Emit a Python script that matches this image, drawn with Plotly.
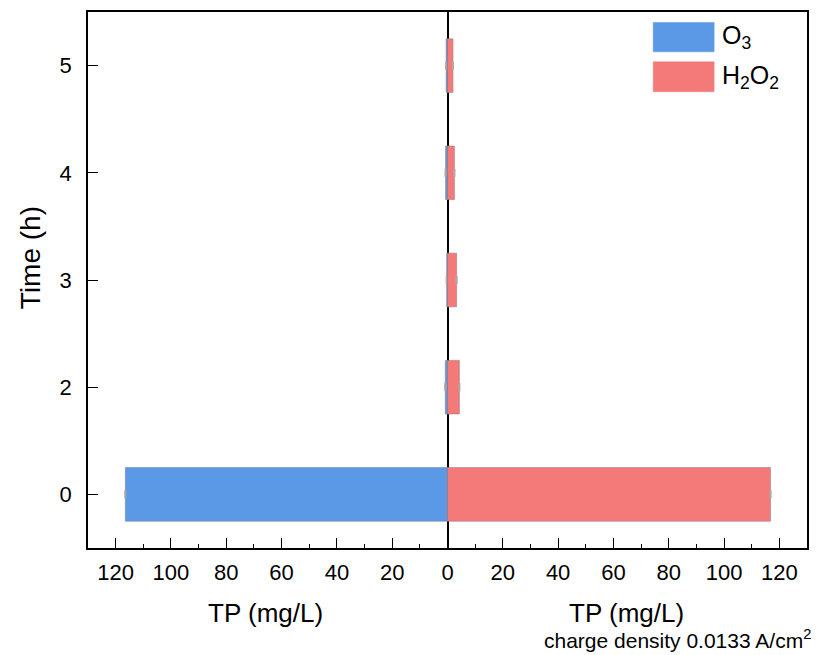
import plotly.graph_objects as go

times = ["0", "2", "3", "4", "5"]
o3_tp = [116.5, 0.8, 0.3, 0.7, 0.5]
h2o2_tp = [116.8, 4.3, 3.3, 2.5, 2.0]
o3_err = [0.2, 0.2, 0.2, 0.2, 0.2]
h2o2_err = [0.2, 0.2, 0.2, 0.2, 0.2]
xtick_vals = [-120, -100, -80, -60, -40, -20, 0, 20, 40, 60, 80, 100, 120]
xtick_text = [str(abs(v)) for v in xtick_vals]

BLUE = "#5B98E6"
RED = "#F47A7A"
FONT = "Liberation Sans, Arial, sans-serif"

fig = go.Figure()
fig.add_trace(go.Bar(
    y=times, x=[-v for v in o3_tp], orientation="h", width=0.5,
    marker=dict(color=BLUE, line=dict(color="#7a8a9a", width=0.6)),
    error_x=dict(type="data", array=o3_err, color="#aaaaaa", thickness=1, width=4),
    name="O3", showlegend=False,
))
fig.add_trace(go.Bar(
    y=times, x=h2o2_tp, orientation="h", width=0.5,
    marker=dict(color=RED, line=dict(color="#a08080", width=0.6)),
    error_x=dict(type="data", array=h2o2_err, color="#aaaaaa", thickness=1, width=4),
    name="H2O2", showlegend=False,
))

fig.update_layout(
    width=819, height=655,
    margin=dict(l=88, r=11, t=10, b=107),
    plot_bgcolor="white", paper_bgcolor="white",
    barmode="overlay",
    font=dict(family=FONT, color="black"),
    xaxis=dict(
        range=[-130, 130], tickvals=xtick_vals, ticktext=xtick_text,
        ticks="inside", ticklen=10, tickwidth=1.3, tickcolor="black",
        minor=dict(dtick=10, tick0=0, ticks="inside", ticklen=4, tickcolor="black"),
        showline=True, linecolor="black", linewidth=1.5, mirror=True,
        showgrid=False, zeroline=True, zerolinecolor="black", zerolinewidth=1.5,
        tickfont=dict(size=22, family=FONT), ticklabelstandoff=4,
    ),
    yaxis=dict(
        type="category", categoryorder="array", categoryarray=times,
        range=[-0.5, 4.5],
        ticks="inside", ticklen=10, tickwidth=1.3, tickcolor="black",
        showline=True, linecolor="black", linewidth=1.5, mirror=True,
        showgrid=False, zeroline=False,
        tickfont=dict(size=22, family=FONT), ticklabelstandoff=10,
    ),
)

def px_x(p):
    return (p - 88) / 720.0
def px_y(p):
    return 1 - (p - 10) / 538.0

# axis titles and note
fig.add_annotation(x=px_x(30), y=px_y(257), xref="paper", yref="paper", text="Time (h)",
                   textangle=-90, showarrow=False, font=dict(size=28, family=FONT),
                   xanchor="center", yanchor="middle")
fig.add_annotation(x=px_x(266), y=px_y(613), xref="paper", yref="paper", text="TP (mg/L)",
                   showarrow=False, font=dict(size=26, family=FONT), xanchor="center", yanchor="middle")
fig.add_annotation(x=px_x(627), y=px_y(613), xref="paper", yref="paper", text="TP (mg/L)",
                   showarrow=False, font=dict(size=26, family=FONT), xanchor="center", yanchor="middle")
fig.add_annotation(x=px_x(814), y=px_y(639), xref="paper", yref="paper",
                   text="charge density 0.0133 A/cm<sup>2</sup>",
                   showarrow=False, font=dict(size=21, family=FONT), xanchor="right", yanchor="middle")

# custom legend
legend_items = [("O<sub>3</sub>", BLUE, 20.5, 50), ("H<sub>2</sub>O<sub>2</sub>", RED, 60, 90)]
for label, col, y0, y1 in legend_items:
    fig.add_shape(type="rect", xref="paper", yref="paper",
                  x0=px_x(654), x1=px_x(715), y0=px_y(y1), y1=px_y(y0),
                  fillcolor=col, line=dict(color=col, width=0.5))
    fig.add_annotation(x=px_x(721), y=px_y((y0 + y1) / 2), xref="paper", yref="paper",
                       text=label, showarrow=False, xanchor="left", yanchor="middle",
                       font=dict(size=25, family=FONT))

fig.write_html("out.html")
